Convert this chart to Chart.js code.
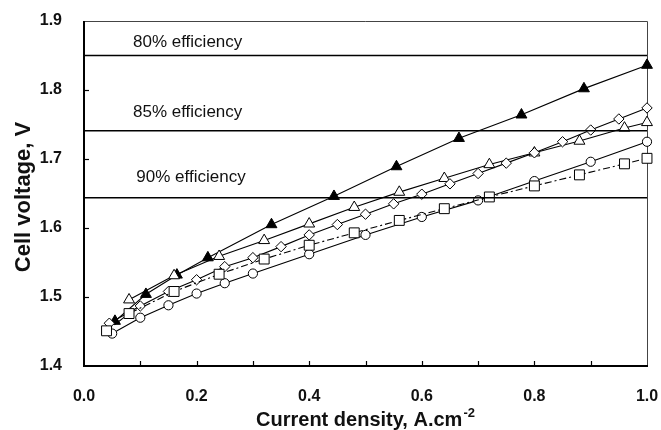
<!DOCTYPE html>
<html><head><meta charset="utf-8">
<script src="https://cdn.jsdelivr.net/npm/chart.js@4/dist/chart.umd.min.js"></script>
<style>html,body{margin:0;padding:0;background:#fff}#wrap{width:661px;height:430px;position:relative}</style>
</head><body><div id="wrap"><canvas id="c" width="661" height="430"></canvas></div>
<script>
// ---- data ----
const xTickLabels = ['0.0','0.2','0.4','0.6','0.8','1.0'];
const yTickLabels = ['1.4','1.5','1.6','1.7','1.8','1.9'];
const efficiencyLabels = ['80% efficiency','85% efficiency','90% efficiency'];
const efficiencyVoltages = [1.85, 1.741, 1.644];

const filledTriX = [0.055,0.11,0.165,0.22,0.333,0.444,0.555,0.666,0.777,0.888,1.0];
const filledTriY = [1.465,1.504,1.532,1.557,1.605,1.646,1.689,1.730,1.764,1.802,1.836];

const openTriX = [0.08,0.16,0.24,0.32,0.40,0.48,0.56,0.64,0.72,0.80,0.88,0.96,1.0];
const openTriY = [1.496,1.531,1.559,1.582,1.606,1.630,1.652,1.672,1.692,1.709,1.726,1.745,1.753];

const diamondX = [0.045,0.1,0.15,0.2,0.25,0.3,0.35,0.4,0.45,0.5,0.55,0.6,0.65,0.7,0.75,0.8,0.85,0.9,0.95,1.0];
const diamondY = [1.462,1.487,1.508,1.525,1.544,1.557,1.573,1.590,1.605,1.620,1.635,1.649,1.664,1.679,1.694,1.709,1.725,1.742,1.758,1.774];

const circleX = [0.05,0.1,0.15,0.2,0.25,0.3,0.4,0.5,0.6,0.7,0.8,0.9,1.0];
const circleY = [1.447,1.470,1.488,1.505,1.520,1.534,1.562,1.590,1.616,1.640,1.668,1.696,1.725];

const squareX = [0.04,0.08,0.16,0.24,0.32,0.40,0.48,0.56,0.64,0.72,0.80,0.88,0.96,1.0];
const squareY = [1.451,1.476,1.508,1.533,1.555,1.575,1.593,1.611,1.628,1.645,1.661,1.677,1.693,1.701];

// ---- build ----
const pts = (xs, ys) => xs.map((x, i) => ({x, y: ys[i]}));
const INK = '#111';

function series(xs, ys, style, radius, fill, dash) {
  return {
    data: pts(xs, ys), borderColor: '#000', borderWidth: 1.1, borderDash: dash || [],
    pointStyle: style, pointRadius: radius, pointHoverRadius: radius,
    pointBackgroundColor: fill, pointBorderColor: '#000', pointBorderWidth: 1,
    tension: 0, clip: false, fill: false
  };
}
const effSets = efficiencyVoltages.map(v => ({
  data: [{x: 0, y: v}, {x: 1, y: v}], borderColor: '#000', borderWidth: 1.5,
  pointRadius: 0, pointHoverRadius: 0, clip: false, fill: false
}));

const decor = {
  id: 'decor',
  beforeDatasetsDraw(chart) {
    const {ctx, chartArea: a, scales: {x, y}} = chart;
    ctx.save();
    ctx.strokeStyle = '#000';
    ctx.lineWidth = 1.2;
    for (let i = 1; i < 10; i++) {
      const px = Math.round(x.getPixelForValue(i / 10)) + 0.5;
      ctx.beginPath(); ctx.moveTo(px, a.bottom); ctx.lineTo(px, a.bottom - 5); ctx.stroke();
    }
    for (let i = 1; i < 5; i++) {
      const py = Math.round(y.getPixelForValue(1.4 + i / 10)) + 0.5;
      ctx.beginPath(); ctx.moveTo(a.left, py); ctx.lineTo(a.left + 5, py); ctx.stroke();
    }
    ctx.strokeStyle = '#444'; ctx.lineWidth = 1;
    ctx.beginPath();
    ctx.moveTo(a.left, a.top + 0.5); ctx.lineTo(a.right + 0.5, a.top + 0.5); ctx.lineTo(a.right + 0.5, a.bottom);
    ctx.stroke();
    ctx.strokeStyle = '#000'; ctx.lineWidth = 2;
    ctx.beginPath();
    ctx.moveTo(a.left, a.top); ctx.lineTo(a.left, a.bottom); ctx.lineTo(a.right + 1, a.bottom);
    ctx.stroke();
    ctx.restore();
  },
  afterDraw(chart) {
    const {ctx, chartArea: a, scales: {x, y}} = chart;
    ctx.save();
    ctx.fillStyle = INK;
    ctx.font = '17px "Liberation Sans", Arial, sans-serif';
    ctx.textBaseline = 'middle'; ctx.textAlign = 'left';
    const anchors = [[0.087, 1.869], [0.087, 1.767], [0.093, 1.673]];
    efficiencyLabels.forEach((t, i) => {
      ctx.fillText(t, x.getPixelForValue(anchors[i][0]), y.getPixelForValue(anchors[i][1]));
    });
    const main = 'Current density, A.cm', sup = '-2';
    ctx.font = 'bold 20px "Liberation Sans", Arial, sans-serif';
    const w1 = ctx.measureText(main).width;
    ctx.font = 'bold 13px "Liberation Sans", Arial, sans-serif';
    const w2 = ctx.measureText(sup).width;
    const cx = (a.left + a.right) / 2;
    const sx = cx - (w1 + w2 + 1) / 2;
    ctx.textBaseline = 'alphabetic';
    ctx.font = 'bold 20px "Liberation Sans", Arial, sans-serif';
    ctx.fillText(main, sx, 426);
    ctx.font = 'bold 13px "Liberation Sans", Arial, sans-serif';
    ctx.fillText(sup, sx + w1 + 1, 417);
    ctx.translate(24, 197);
    ctx.rotate(-Math.PI / 2);
    ctx.font = 'bold 22px "Liberation Sans", Arial, sans-serif';
    ctx.textAlign = 'center'; ctx.textBaseline = 'middle';
    ctx.fillText('Cell voltage, V', 0, 0);
    ctx.restore();
  }
};

new Chart(document.getElementById('c'), {
  type: 'line',
  data: {
    datasets: [
      ...effSets,
      series(squareX, squareY, 'rect', 7, '#fff', [7, 3, 2, 3]),
      series(circleX, circleY, 'circle', 4.6, '#fff'),
      series(diamondX, diamondY, 'rectRot', 5.2, '#fff'),
      series(openTriX, openTriY, 'triangle', 6.3, '#fff'),
      series(filledTriX, filledTriY, 'triangle', 6.3, '#000')
    ]
  },
  options: {
    responsive: false, animation: false, devicePixelRatio: 1,
    layout: {padding: {top: 21, right: 0, left: 0, bottom: 0}},
    plugins: {legend: {display: false}, tooltip: {enabled: false}},
    scales: {
      x: {
        type: 'linear', min: 0, max: 1,
        grid: {display: false}, border: {display: false},
        ticks: {
          stepSize: 0.1, autoSkip: false, maxRotation: 0, padding: 13, color: INK,
          font: {family: '"Liberation Sans", Arial, sans-serif', size: 16, weight: 'bold'},
          callback: v => { const i = Math.round(v * 10); return i % 2 === 0 ? xTickLabels[i / 2] : ''; }
        },
        afterFit: s => { s.height = 64; s.paddingRight = 14; s.paddingLeft = 0; }
      },
      y: {
        type: 'linear', min: 1.4, max: 1.9,
        grid: {display: false}, border: {display: false},
        ticks: {
          stepSize: 0.1, padding: 14, color: INK,
          font: {family: '"Liberation Sans", Arial, sans-serif', size: 16, weight: 'bold'},
          callback: v => yTickLabels[Math.round((v - 1.4) * 10)]
        },
        afterFit: s => { s.width = 84; s.paddingTop = 0; s.paddingBottom = 0; }
      }
    }
  },
  plugins: [decor]
});
</script></body></html>
